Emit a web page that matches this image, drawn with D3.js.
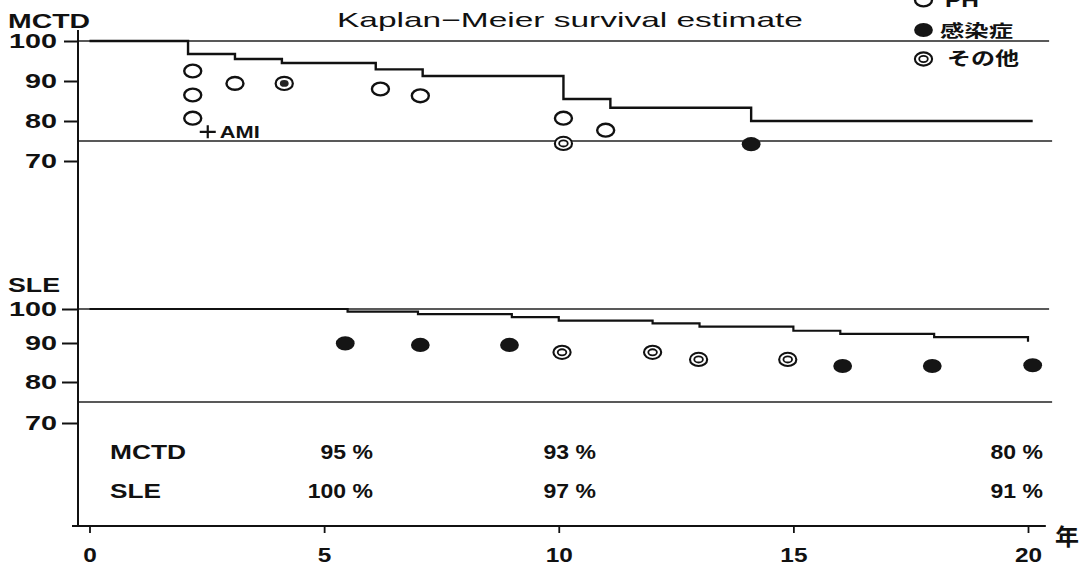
<!DOCTYPE html>
<html>
<head>
<meta charset="utf-8">
<script src="https://cdn.jsdelivr.net/npm/d3@7"></script>
<style>
  html, body { margin: 0; padding: 0; background: #fff; }
  svg { display: block; }
</style>
</head>
<body>
<div id="chart"></div>
<script>
// ---- Kaplan-Meier step curves (years, survival %) ----
const mctdTimes    = [0, 2.1, 3.1, 4.1, 6.1, 7.1, 10.1, 11.1, 14.1, 20.1];
const mctdSurvival = [100, 96.75, 95.5, 94.5, 92.9, 91.25, 85.5, 83.3, 80, 80];

const sleTimes    = [0, 5.5, 7.0, 9.0, 10.0, 12.0, 13.0, 15.0, 16.0, 18.0, 20.0];
const sleSurvival = [100, 99.2, 98.5, 97.6, 96.6, 95.8, 94.8, 93.6, 92.7, 91.7, 90.4];

// ---- Deaths by cause (year, vertical position in %, cause) ----
const mctdDeathTimes  = [2.2, 2.2, 2.2, 3.1, 4.15, 6.2, 7.05, 10.1, 10.1, 11.0, 14.1];
const mctdDeathLevels = [92.5, 86.5, 80.7, 89.4, 89.4, 88, 86.3, 80.7, 74.4, 77.7, 74.2];
const mctdDeathCauses = ["PH", "PH", "PH", "PH", "感染症+その他", "PH", "PH", "PH", "その他", "PH", "感染症"];

const sleDeathTimes  = [5.45, 7.05, 8.95, 10.07, 12.0, 12.98, 14.88, 16.05, 17.96, 20.1];
const sleDeathLevels = [89.9, 89.5, 89.5, 87.6, 87.6, 85.8, 85.8, 84.1, 84.1, 84.3];
const sleDeathCauses = ["感染症", "感染症", "感染症", "その他", "その他", "その他", "その他", "感染症", "感染症", "感染症"];

const amiTime = 2.52, amiLevel = 77.3;

// ---- Survival rate table ----
const tableGroups = ["MCTD", "SLE"];
const mctdRates = [95, 93, 80];
const sleRates  = [100, 97, 91];

// ---- Axes / legend text ----
const xTicks = [0, 5, 10, 15, 20];
const yTicks = [70, 80, 90, 100];
const legendCauses = ["PH", "感染症", "その他"];

// ---- Layout ----
const W = 1086, H = 565;
const INK = "#111";
const LAT = "'Liberation Sans', Arial, Helvetica, sans-serif";
const CJK = "'Noto Sans CJK JP', 'Noto Sans CJK SC', sans-serif";
const AXIS_X = 78, AXIS_Y = 526;

const svg = d3.select("#chart").append("svg")
  .attr("width", W).attr("height", H)
  .attr("viewBox", `0 0 ${W} ${H}`);

const x  = d3.scaleLinear().domain([0, 20]).range([89.5, 1028]);
const yM = d3.scaleLinear().domain([70, 100]).range([161, 41]);
const yS = d3.scaleLinear().domain([70, 75, 80, 90, 100]).range([423, 402, 382, 343, 309]);

// text helper: fixed drawn width via textLength
function wideText(parent, px, py, str, o) {
  const t = parent.append("text")
    .attr("x", px).attr("y", py)
    .attr("font-family", o.family || LAT)
    .attr("font-size", o.size)
    .attr("font-weight", o.weight || "bold")
    .attr("text-anchor", o.anchor || "start")
    .attr("fill", INK)
    .text(str);
  if (o.width) t.attr("textLength", o.width).attr("lengthAdjust", "spacingAndGlyphs");
  return t;
}
// text helper: horizontal stretch factor
function stretchText(parent, px, py, str, o) {
  return parent.append("text")
    .attr("transform", `translate(${px},${py}) scale(${o.sx || 1.3},1)`)
    .attr("font-family", o.family || LAT)
    .attr("font-size", o.size)
    .attr("font-weight", o.weight || "bold")
    .attr("text-anchor", o.anchor || "start")
    .attr("fill", INK)
    .text(str);
}

// ---- cause markers ----
function drawMarker(g, cause) {
  if (cause === "PH") {
    g.append("ellipse").attr("rx", 8.5).attr("ry", 6.4)
      .attr("fill", "#fff").attr("stroke", INK).attr("stroke-width", 2.4);
  } else if (cause === "感染症") {
    g.append("ellipse").attr("rx", 9.4).attr("ry", 7.1).attr("fill", "#151515");
  } else if (cause === "その他") {
    g.append("ellipse").attr("rx", 8.6).attr("ry", 6.6)
      .attr("fill", "#fff").attr("stroke", INK).attr("stroke-width", 2.1);
    g.append("ellipse").attr("rx", 4.3).attr("ry", 3.1)
      .attr("fill", "none").attr("stroke", INK).attr("stroke-width", 1.8);
  } else {
    g.append("ellipse").attr("rx", 8.6).attr("ry", 6.6)
      .attr("fill", "#fff").attr("stroke", INK).attr("stroke-width", 2.2);
    g.append("ellipse").attr("rx", 4.4).attr("ry", 3.4).attr("fill", "#222");
  }
}

function drawDeaths(layer, times, levels, causes, y) {
  layer.selectAll("g.death").data(d3.range(times.length)).join("g")
    .attr("class", "death")
    .attr("transform", i => `translate(${x(times[i])},${y(levels[i])})`)
    .each(function (i) { drawMarker(d3.select(this), causes[i]); });
}

// ---- title ----
wideText(svg, 337, 27, "Kaplan\u2212Meier survival estimate",
  { size: 21, weight: "normal", width: 466 });

// ---- legend ----
const legendY = [0, 30, 59];
const legendTextX = [945, 940, 947];
const legendTextW = [34, 73, 72];
const legendBase = [7, 36.5, 65];
const legendSize = [18, 16.5, 18];
legendCauses.forEach((c, i) => {
  const g = svg.append("g").attr("transform", `translate(923.5,${legendY[i]})`);
  drawMarker(g, c);
  wideText(svg, legendTextX[i], legendBase[i], c,
    { size: legendSize[i], width: legendTextW[i], family: c === "PH" ? LAT : CJK });
});

// ---- panel labels ----
wideText(svg, 8, 28, "MCTD", { size: 21, width: 82 });
wideText(svg, 8, 291.5, "SLE", { size: 21, width: 52 });

// ---- reference lines at 100% and 75% ----
const refEnd = x(20.45);
[[yM, 100], [yM, 75], [yS, 100], [yS, 75]].forEach(([sc, v]) => {
  svg.append("line")
    .attr("x1", AXIS_X).attr("x2", v === 75 ? refEnd + 3 : refEnd)
    .attr("y1", sc(v)).attr("y2", sc(v))
    .attr("stroke", "#222").attr("stroke-width", v === 100 ? 1.7 : 1.5);
});

// ---- y axes ----
const SX_TICK = 1.37;
function styleYAxis(g) {
  g.select(".domain").remove();
  g.selectAll(".tick line").attr("stroke", INK).attr("stroke-width", 2);
  g.selectAll(".tick text")
    .attr("font-family", LAT).attr("font-size", 21).attr("font-weight", "bold")
    .attr("fill", INK)
    .attr("x", -21 / SX_TICK)
    .attr("transform", `scale(${SX_TICK},1)`);
}
svg.append("g").attr("transform", `translate(${AXIS_X},0)`)
  .call(d3.axisLeft(yM).tickValues(yTicks).tickSize(14).tickPadding(7))
  .call(styleYAxis);
svg.append("g").attr("transform", `translate(${AXIS_X},0)`)
  .call(d3.axisLeft(yS).tickValues(yTicks).tickSize(16).tickPadding(5))
  .call(styleYAxis);

// vertical axis line
svg.append("line")
  .attr("x1", AXIS_X).attr("x2", AXIS_X).attr("y1", 30).attr("y2", AXIS_Y)
  .attr("stroke", INK).attr("stroke-width", 2);

// ---- x axis ----
const xAxis = svg.append("g").attr("transform", `translate(0,${AXIS_Y})`)
  .call(d3.axisBottom(x).tickValues(xTicks).tickSize(7).tickPadding(15));
xAxis.select(".domain").remove();
xAxis.selectAll(".tick line").attr("stroke", INK).attr("stroke-width", 1.8);
xAxis.selectAll(".tick text")
  .attr("font-family", LAT).attr("font-size", 19.5).attr("font-weight", "bold")
  .attr("fill", INK).attr("transform", "scale(1.25,1)");
svg.append("line")
  .attr("x1", 72).attr("x2", x(20.38)).attr("y1", AXIS_Y).attr("y2", AXIS_Y)
  .attr("stroke", INK).attr("stroke-width", 2);
wideText(svg, 1067, 545, "年", { size: 23, anchor: "middle", family: CJK, width: 24 });

// ---- KM curves ----
const step = sc => d3.line().x(d => x(d[0])).y(d => sc(d[1])).curve(d3.curveStepAfter);
svg.append("path")
  .datum(mctdTimes.map((t, i) => [t, mctdSurvival[i]]))
  .attr("d", step(yM)).attr("fill", "none")
  .attr("stroke", INK).attr("stroke-width", 2.4);
svg.append("path")
  .datum(sleTimes.map((t, i) => [t, sleSurvival[i]]))
  .attr("d", step(yS)).attr("fill", "none")
  .attr("stroke", INK).attr("stroke-width", 2.2);

// ---- deaths by cause ----
drawDeaths(svg.append("g"), mctdDeathTimes, mctdDeathLevels, mctdDeathCauses, yM);
drawDeaths(svg.append("g"), sleDeathTimes, sleDeathLevels, sleDeathCauses, yS);

// AMI mark
const ax = x(amiTime), ay = yM(amiLevel);
svg.append("path")
  .attr("d", `M${ax - 8},${ay}H${ax + 8}M${ax},${ay - 6.5}V${ay + 6.5}`)
  .attr("stroke", INK).attr("stroke-width", 2.2).attr("fill", "none");
wideText(svg, ax + 12, ay + 6.6, "AMI", { size: 16.5, width: 40 });

// ---- survival rate table ----
const colRight = [373, 596, 1043];
const rowBase = [459, 498];
const groupWidth = [76, 51];
[mctdRates, sleRates].forEach((rates, r) => {
  wideText(svg, 110, rowBase[r], tableGroups[r], { size: 20, width: groupWidth[r] });
  rates.forEach((v, c) => {
    stretchText(svg, colRight[c], rowBase[r], `${v} %`, { size: 20, sx: 1.15, anchor: "end" });
  });
});
</script>
</body>
</html>
